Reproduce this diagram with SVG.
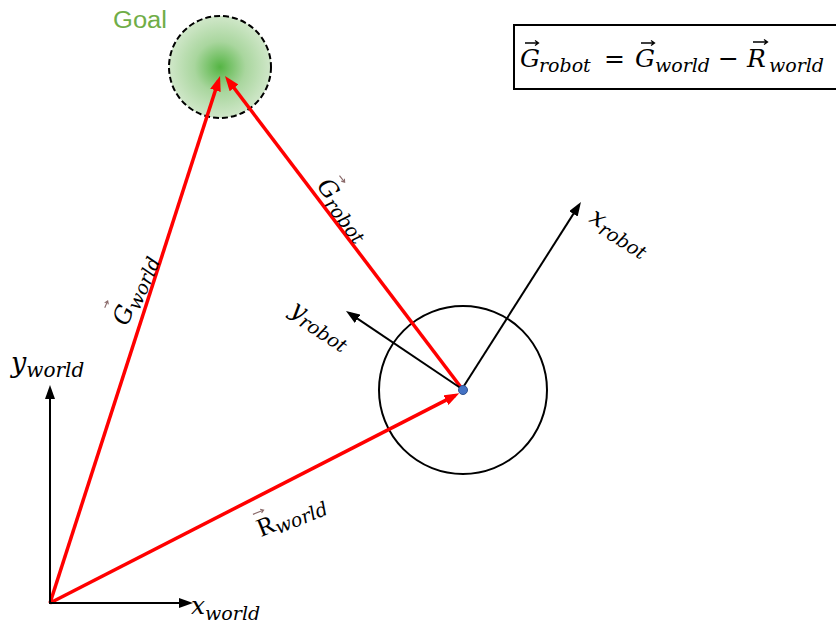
<svg xmlns="http://www.w3.org/2000/svg" width="836" height="626" viewBox="0 0 836 626">
<defs>
<style>
.math{font-family:"DejaVu Serif","Liberation Serif",serif;font-style:italic;fill:#000}
.up{font-style:normal}
.red{stroke:#FF0000;stroke-width:3.5;fill:none}
.blk{stroke:#000;stroke-width:2;fill:none}
.acc{stroke:#000;stroke-width:1.3;fill:none}
.acc2{stroke:#8a6a6a;stroke-width:1.1;fill:none}
</style>
<marker id="ar" viewBox="0 0 15 11" markerWidth="15" markerHeight="11" refX="10" refY="5.5" orient="auto" markerUnits="userSpaceOnUse">
<path d="M0,0 L15,5.5 L0,11 z" fill="#FF0000"/>
</marker>
<marker id="ab" viewBox="0 0 14 10" markerWidth="14" markerHeight="10" refX="10" refY="5" orient="auto" markerUnits="userSpaceOnUse">
<path d="M0,0 L14,5 L0,10 z" fill="#000"/>
</marker>
<radialGradient id="gg" cx="0.5" cy="0.5" r="0.5">
<stop offset="0" stop-color="#55B544"/>
<stop offset="0.5" stop-color="#A9D69E"/>
<stop offset="1" stop-color="#D0E7C9"/>
</radialGradient>
</defs>
<rect width="836" height="626" fill="#fff"/>

<g id="goal">
<circle cx="220" cy="67" r="51" fill="url(#gg)" stroke="#000" stroke-width="2" stroke-dasharray="6 3"/>
<text x="113" y="28" font-family="'Liberation Sans','Open Sans',sans-serif" font-size="23" fill="#70AD47" textLength="54" lengthAdjust="spacingAndGlyphs">Goal</text>
</g>

<g id="robot">
<circle cx="463" cy="390" r="84" fill="none" stroke="#000" stroke-width="2"/>
</g>

<g id="equation">
<rect x="514" y="25" width="330" height="64" fill="#fff" stroke="#000" stroke-width="2"/>
<text class="math" x="520" y="67" font-size="25">G</text>
<text class="math" x="539" y="72" font-size="19">robot</text>
<text class="math up" x="604" y="67" font-size="25">=</text>
<text class="math" x="635" y="67" font-size="25">G</text>
<text class="math" x="655" y="72" font-size="19">world</text>
<text class="math up" x="718" y="67" font-size="25">−</text>
<text class="math" x="747" y="67" font-size="25">R</text>
<text class="math" x="769" y="72" font-size="19">world</text>
<path class="acc" d="M525,43 H538 M535,40.5 L538.5,43 L535,45.5"/>
<path class="acc" d="M641,43 H654 M651,40.5 L654.5,43 L651,45.5"/>
<path class="acc" d="M753,42 H767 M764,39.5 L767.5,42 L764,44.5"/>
</g>

<g id="connectors">
<line class="red" x1="50" y1="603" x2="218.5" y2="80.8" marker-end="url(#ar)"/>
<line class="red" x1="463" y1="390" x2="228" y2="80" marker-end="url(#ar)"/>
<line class="red" x1="50" y1="603" x2="454.8" y2="395.6" marker-end="url(#ar)"/>
<line class="blk" x1="50" y1="604" x2="50" y2="389" marker-end="url(#ab)"/>
<line class="blk" x1="49" y1="603" x2="189" y2="603" marker-end="url(#ab)"/>
<line class="blk" x1="462" y1="389" x2="578.8" y2="205.4" marker-end="url(#ab)"/>
<line class="blk" x1="462" y1="389" x2="349.3" y2="313.2" marker-end="url(#ab)"/>
</g>

<g id="robot-center">
<circle cx="463" cy="390" r="4.5" fill="#4472C4" stroke="#2F528F" stroke-width="1"/>
</g>

<g id="label-grobot" transform="translate(316,186) rotate(52.5)">
<text class="math" x="0" y="0" font-size="24">G<tspan font-size="19" dy="5">robot</tspan></text>
<path class="acc2" d="M6,-25 H14 M11.5,-27 L14.5,-25 L11.5,-23"/>
</g>

<g id="label-gworld" transform="translate(127,327) rotate(-67)">
<text class="math" x="0" y="0" font-size="24">G<tspan font-size="19" dy="5">world</tspan></text>
<path class="acc2" d="M9,-28 H16 M13.5,-30 L16.5,-28 L13.5,-26"/>
</g>

<g id="label-rworld" transform="translate(261,537) rotate(-22)">
<text x="0" y="0" font-family="'Liberation Serif',serif" font-size="26" fill="#000">R</text>
<text class="math" x="17" y="4" font-size="19">world</text>
<path class="acc2" d="M1,-24 H12 M9.5,-26 L12.5,-24 L9.5,-22"/>
</g>

<g id="label-xrobot" transform="translate(588,221) rotate(32)">
<text class="math" x="0" y="0" font-size="25">x<tspan font-size="19" dy="5">robot</tspan></text>
</g>

<g id="label-yrobot" transform="translate(289,313) rotate(33)">
<text class="math" x="0" y="0" font-size="25">y<tspan font-size="19" dy="5">robot</tspan></text>
</g>

<g id="label-yworld">
<text class="math" x="11" y="372" font-size="27">y<tspan font-size="20" dy="5">world</tspan></text>
</g>

<g id="label-xworld">
<text class="math" x="191" y="614" font-size="25">x<tspan font-size="19" dy="6">world</tspan></text>
</g>
</svg>
